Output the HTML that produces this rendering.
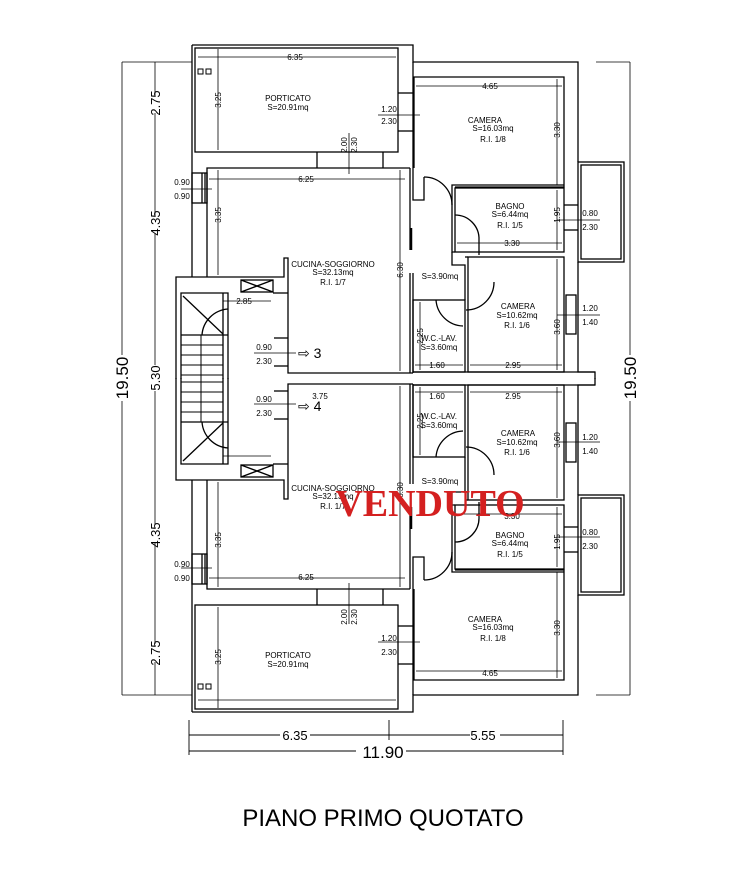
<!DOCTYPE html>
<html><head><meta charset="utf-8"><style>
html,body{margin:0;padding:0;background:#fff}
svg{display:block}
text{font-family:"Liberation Sans",sans-serif;fill:#000}
.s{font-size:8px}
</style></head><body>
<svg width="754" height="876" viewBox="0 0 754 876" xmlns="http://www.w3.org/2000/svg">
<defs>
<g id="half" fill="none" stroke="#000" stroke-width="1.3">
  <path d="M192,45 H413 V62 H578 V162"/>
  <path d="M578,262 V372 H595 V379"/>
  <path d="M192,45 V277"/>
  <rect x="195" y="48" width="203" height="104"/>
  <line x1="413" y1="62" x2="413" y2="168"/>
  <line x1="398" y1="93" x2="413" y2="93"/><line x1="398" y1="131" x2="413" y2="131"/>
  <path d="M414,168 V77 H564 V187 H455"/>
  <path d="M207,277 V168 H410"/>
  <line x1="317" y1="152" x2="317" y2="168"/><line x1="383" y1="152" x2="383" y2="168"/>
  <rect x="192" y="173" width="15" height="30"/>
  <line x1="202" y1="173" x2="202" y2="203"/><line x1="205" y1="173" x2="205" y2="203"/>
  <path d="M410,168 V250"/><path d="M413,168 V200 H424 V177"/>
  <path d="M424,177 A28,28 0 0 1 452,205"/>
  <line x1="411" y1="228" x2="411" y2="250" stroke-width="2.5"/>
  <path d="M410,273 V373"/><path d="M413,273 V373"/>
  <path d="M452,205 V185 H564"/>
  <rect x="455" y="188" width="109" height="64"/>
  <path d="M452,205 V252 H455"/>
  <path d="M455,215 A24,24 0 0 1 479,240 V255"/>
  <path d="M452,252 V265 H465 V300"/>
  <rect x="578" y="162" width="46" height="100"/>
  <rect x="581" y="165" width="40" height="94"/>
  <line x1="564" y1="205" x2="578" y2="205"/><line x1="564" y1="230" x2="578" y2="230"/>
  <rect x="468" y="257" width="96" height="115"/>
  <path d="M465,257 H468"/>
  <path d="M494,282 A28,28 0 0 1 466,310"/>
  <rect x="566" y="295" width="10" height="39"/>
  <rect x="413" y="300" width="52" height="72"/>
  <path d="M436,300 A28,28 0 0 0 463,326"/>
  <line x1="413" y1="372" x2="595" y2="372"/>
  <path d="M176,379 V277 H284 V258 H288 V373 H413"/>
  <path d="M181,379 V293 H228 V379"/>
  <rect x="241" y="280" width="32" height="12"/>
  <line x1="241" y1="280" x2="273" y2="292"/><line x1="241" y1="292" x2="273" y2="280"/>
  <line x1="273" y1="293" x2="288" y2="293"/>
  <line x1="228" y1="335" x2="181" y2="335"/>
  <line x1="183" y1="296" x2="223" y2="334"/>
  <path d="M202,335 A28,28 0 0 1 228,309"/>
  <line x1="223" y1="293" x2="223" y2="379"/>
  <line x1="274" y1="338" x2="288" y2="338"/><line x1="274" y1="366" x2="288" y2="366"/>
  <g stroke-width="1"><line x1="181" y1="345" x2="223" y2="345"/><line x1="181" y1="355" x2="223" y2="355"/><line x1="181" y1="365" x2="223" y2="365"/><line x1="181" y1="375" x2="223" y2="375"/><line x1="201" y1="335" x2="201" y2="379"/></g>
  <g stroke-width="0.8">
  <line x1="198" y1="57" x2="396" y2="57"/>
  <line x1="218" y1="49" x2="218" y2="150"/>
  <line x1="349" y1="133" x2="349" y2="174"/>
  <line x1="378" y1="115" x2="420" y2="115"/>
  <line x1="416" y1="86" x2="562" y2="86"/>
  <line x1="557" y1="79" x2="557" y2="185"/>
  <line x1="209" y1="179" x2="405" y2="179"/>
  <line x1="218" y1="170" x2="218" y2="275"/>
  <line x1="400" y1="170" x2="400" y2="371"/>
  <line x1="181" y1="189" x2="212" y2="189"/>
  <line x1="557" y1="190" x2="557" y2="250"/>
  <line x1="457" y1="243" x2="562" y2="243"/>
  <line x1="557" y1="259" x2="557" y2="370"/>
  <line x1="470" y1="365" x2="562" y2="365"/>
  <line x1="420" y1="302" x2="420" y2="370"/>
  <line x1="415" y1="365" x2="463" y2="365"/>
  <line x1="557" y1="220" x2="600" y2="220"/>
  <line x1="557" y1="315" x2="600" y2="315"/>
  <line x1="223" y1="301" x2="271" y2="301"/>
  <line x1="254" y1="353" x2="296" y2="353"/>
  <line x1="122" y1="62" x2="192" y2="62"/>
  <line x1="155" y1="62" x2="155" y2="95"/><line x1="155" y1="113" x2="155" y2="215"/><line x1="155" y1="233" x2="155" y2="370"/>
  <line x1="122" y1="62" x2="122" y2="360"/>
  <line x1="596" y1="62" x2="630" y2="62"/>
  <line x1="630" y1="62" x2="630" y2="380"/>
  </g>
</g>
</defs>
<use href="#half"/>
<use href="#half" transform="translate(0,757) scale(1,-1)"/>
<g stroke="#000" stroke-width="0.9" fill="none">
  <line x1="189" y1="720" x2="189" y2="755"/><line x1="389" y1="720" x2="389" y2="740"/><line x1="563" y1="720" x2="563" y2="755"/>
  <line x1="189" y1="735" x2="563" y2="735"/><line x1="189" y1="751" x2="563" y2="751"/>
</g>
<g fill="#fff" stroke="none">
  <rect x="280" y="728" width="30" height="12"/><rect x="470" y="728" width="30" height="12"/><rect x="356" y="741" width="50" height="18"/>
  <rect x="110" y="355" width="24" height="46"/><rect x="618" y="355" width="24" height="46"/>
  <rect x="146" y="365" width="18" height="26"/>
</g>
<rect x="198" y="69" width="5" height="5" fill="none" stroke="#000"/><rect x="206" y="69" width="5" height="5" fill="none" stroke="#000"/>
<rect x="198" y="684" width="5" height="5" fill="none" stroke="#000"/><rect x="206" y="684" width="5" height="5" fill="none" stroke="#000"/>
<g class="s" text-anchor="middle">
<text x="295" y="60">6.35</text>
<text x="288" y="101">PORTICATO</text><text x="288" y="110">S=20.91mq</text>
<text x="389" y="112">1.20</text><text x="389" y="124">2.30</text>
<text x="490" y="89">4.65</text>
<text x="485" y="123">CAMERA</text><text x="493" y="131">S=16.03mq</text><text x="493" y="142">R.I.  1/8</text>
<text x="182" y="185">0.90</text><text x="182" y="199">0.90</text>
<text x="306" y="182">6.25</text>
<text x="333" y="267">CUCINA-SOGGIORNO</text><text x="333" y="275">S=32.13mq</text><text x="333" y="285">R.I.  1/7</text>
<text x="510" y="209">BAGNO</text><text x="510" y="217">S=6.44mq</text><text x="510" y="228">R.I.  1/5</text>
<text x="512" y="246">3.30</text>
<text x="590" y="216">0.80</text><text x="590" y="230">2.30</text>
<text x="440" y="279">S=3.90mq</text>
<text x="518" y="309">CAMERA</text><text x="517" y="318">S=10.62mq</text><text x="517" y="328">R.I.  1/6</text>
<text x="590" y="311">1.20</text><text x="590" y="325">1.40</text>
<text x="439" y="341">W.C.-LAV.</text><text x="439" y="350">S=3.60mq</text>
<text x="437" y="368">1.60</text><text x="513" y="368">2.95</text>
<text x="244" y="304">2.85</text>
<text x="264" y="350">0.90</text><text x="264" y="364">2.30</text>
<text x="264" y="402">0.90</text><text x="264" y="416">2.30</text>
<text x="320" y="399">3.75</text>
<text x="437" y="399">1.60</text><text x="513" y="399">2.95</text>
<text x="439" y="419">W.C.-LAV.</text><text x="439" y="428">S=3.60mq</text>
<text x="518" y="436">CAMERA</text><text x="517" y="445">S=10.62mq</text><text x="517" y="455">R.I.  1/6</text>
<text x="590" y="440">1.20</text><text x="590" y="454">1.40</text>
<text x="440" y="484">S=3.90mq</text>
<text x="333" y="491">CUCINA-SOGGIORNO</text><text x="333" y="499">S=32.13mq</text><text x="333" y="509">R.I.  1/7</text>
<text x="512" y="519">3.30</text>
<text x="510" y="538">BAGNO</text><text x="510" y="546">S=6.44mq</text><text x="510" y="557">R.I.  1/5</text>
<text x="590" y="535">0.80</text><text x="590" y="549">2.30</text>
<text x="182" y="567">0.90</text><text x="182" y="581">0.90</text>
<text x="306" y="580">6.25</text>
<text x="485" y="622">CAMERA</text><text x="493" y="630">S=16.03mq</text><text x="493" y="641">R.I.  1/8</text>
<text x="389" y="641">1.20</text><text x="389" y="655">2.30</text>
<text x="288" y="658">PORTICATO</text><text x="288" y="667">S=20.91mq</text>
<text x="490" y="676">4.65</text>
</g>
<g class="s" text-anchor="middle">
<text transform="translate(221,100) rotate(-90)">3.25</text>
<text transform="translate(347,145) rotate(-90)">2.00</text><text transform="translate(357,145) rotate(-90)">2.30</text>
<text transform="translate(560,130) rotate(-90)">3.30</text>
<text transform="translate(221,215) rotate(-90)">3.35</text>
<text transform="translate(403,270) rotate(-90)">6.30</text>
<text transform="translate(560,215) rotate(-90)">1.95</text>
<text transform="translate(560,327) rotate(-90)">3.60</text>
<text transform="translate(423,336) rotate(-90)">2.25</text>
<text transform="translate(423,421) rotate(-90)">2.25</text>
<text transform="translate(560,440) rotate(-90)">3.60</text>
<text transform="translate(403,490) rotate(-90)">6.30</text>
<text transform="translate(560,542) rotate(-90)">1.95</text>
<text transform="translate(221,540) rotate(-90)">3.35</text>
<text transform="translate(347,617) rotate(-90)">2.00</text><text transform="translate(357,617) rotate(-90)">2.30</text>
<text transform="translate(560,628) rotate(-90)">3.30</text>
<text transform="translate(221,657) rotate(-90)">3.25</text>
</g>
<text x="298" y="358" font-size="14">⇨ 3</text>
<text x="298" y="411" font-size="14">⇨ 4</text>
<g font-size="13" text-anchor="middle">
<text transform="translate(160,103) rotate(-90)">2.75</text>
<text transform="translate(160,223) rotate(-90)">4.35</text>
<text transform="translate(160,378) rotate(-90)">5.30</text>
<text transform="translate(160,535) rotate(-90)">4.35</text>
<text transform="translate(160,653) rotate(-90)">2.75</text>
<text x="295" y="740">6.35</text><text x="483" y="740">5.55</text>
</g>
<text transform="translate(128,378) rotate(-90)" font-size="17" text-anchor="middle">19.50</text>
<text transform="translate(636,378) rotate(-90)" font-size="17" text-anchor="middle">19.50</text>
<text x="383" y="758" font-size="17" text-anchor="middle">11.90</text>
<text x="430" y="516" text-anchor="middle" style="font-family:'Liberation Serif',serif;font-weight:bold;font-size:38px;fill:#d42020">VENDUTO</text>
<text x="383" y="826" font-size="24" text-anchor="middle">PIANO PRIMO QUOTATO</text>
</svg>
</body></html>
